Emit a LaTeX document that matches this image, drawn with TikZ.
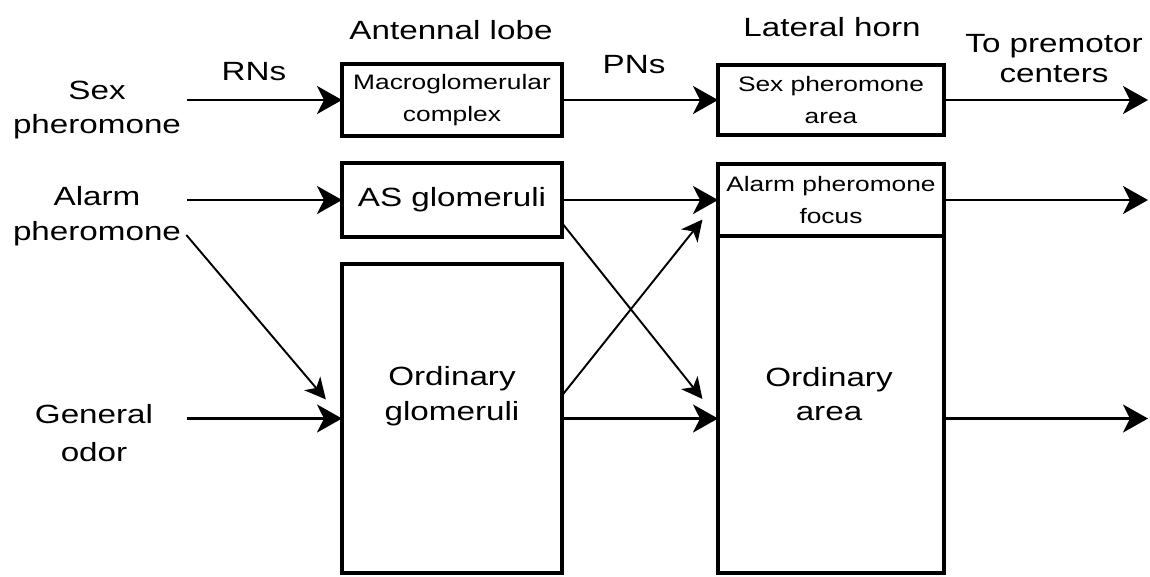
\documentclass[tikz,border=0pt]{standalone}
\usepackage{fontspec}
\setmainfont{Liberation Sans}[FakeStretch=1.26]
\usetikzlibrary{arrows.meta,positioning}

\begin{document}
\begin{tikzpicture}[x=0.02cm, y=-0.02cm,
  every node/.style={align=center, inner sep=2pt},
  big/.style={font=\fontsize{15}{19.8}\selectfont},
  small/.style={font=\fontsize{11.9}{18.1}\selectfont},
  box/.style={draw, line width=2.1pt, outer sep=0pt, minimum width=4.4cm},
  flow/.style={-{Stealth[length=0.5cm, width=0.56cm, inset=0.14cm]}, line width=1.5pt},
  cross/.style={-{Stealth[length=0.42cm, width=0.42cm, inset=0.12cm]}, line width=1.1pt, shorten >=0.5cm}]
\useasboundingbox (0,0) rectangle (1150,576);

% antennal lobe
\node[box, small, minimum height=1.44cm] (mgc) at (452,100) {Macroglomerular\\complex};
\node[box, big, minimum height=1.48cm] (asg) at (452,200) {AS glomeruli};
\node[box, minimum height=6.18cm] (ordg) at (452,418.5) {};
\node[big] (ordgtxt) at (452,396) {Ordinary\\glomeruli};

% lateral horn
\node[box, small, minimum width=4.52cm, minimum height=1.4cm] (sexa) at (831,100) {Sex pheromone\\area};
\node[box, small, minimum width=4.52cm, minimum height=1.44cm] (focus) at (831,200) {Alarm pheromone\\focus};
\node[box, minimum width=4.52cm, minimum height=6.74cm, below=0pt of focus] (ordarea) {};
\node[big] (ordareatxt) at (829,394) {Ordinary\\area};

% headings
\node[big] (al) at (451,30) {Antennal lobe};
\node[big] (lh) at (832,27.5) {Lateral horn};
\node[big] (rns) at (254,71.5) {RNs};
\node[big] (pns) at (634,64.5) {PNs};
\node[big, font=\fontsize{15}{17}\selectfont] (premotortxt) at (1054,58.5) {To premotor\\centers};

% odour sources
\node[big] (sex) at (97,110) {Sex\\pheromone};
\node[big] (alarm) at (97,216) {Alarm\\pheromone};
\node[big, font=\fontsize{15}{22}\selectfont] (odor) at (94,433) {General\\odor};

\coordinate (rnstart) at (187,0);
\coordinate (premotor) at (1148,0);

% receptor neurons
\draw[flow] (rnstart |- mgc) -- (mgc);
\draw[flow] (rnstart |- asg) -- (asg);
\draw[flow] (rnstart |- ordg) -- (ordg);
\draw[cross] ([shift={(1.5,19)}]alarm.east) -- (ordg.west);

% projection neurons
\draw[flow] (mgc) -- (sexa);
\draw[flow] (asg) -- (focus);
\draw[flow] (ordg) -- (ordg -| ordarea.west);
\draw[cross] ([shift={(0,-14)}]asg.south east) -- (ordg -| ordarea.west);
\draw[cross] ([shift={(0,-23)}]ordg.east) -- (focus.west);

% to premotor centers
\draw[flow] (sexa) -- (sexa -| premotor);
\draw[flow] (focus) -- (focus -| premotor);
\draw[flow] (ordarea.east |- ordg) -- (ordg -| premotor);
\end{tikzpicture}
\end{document}
